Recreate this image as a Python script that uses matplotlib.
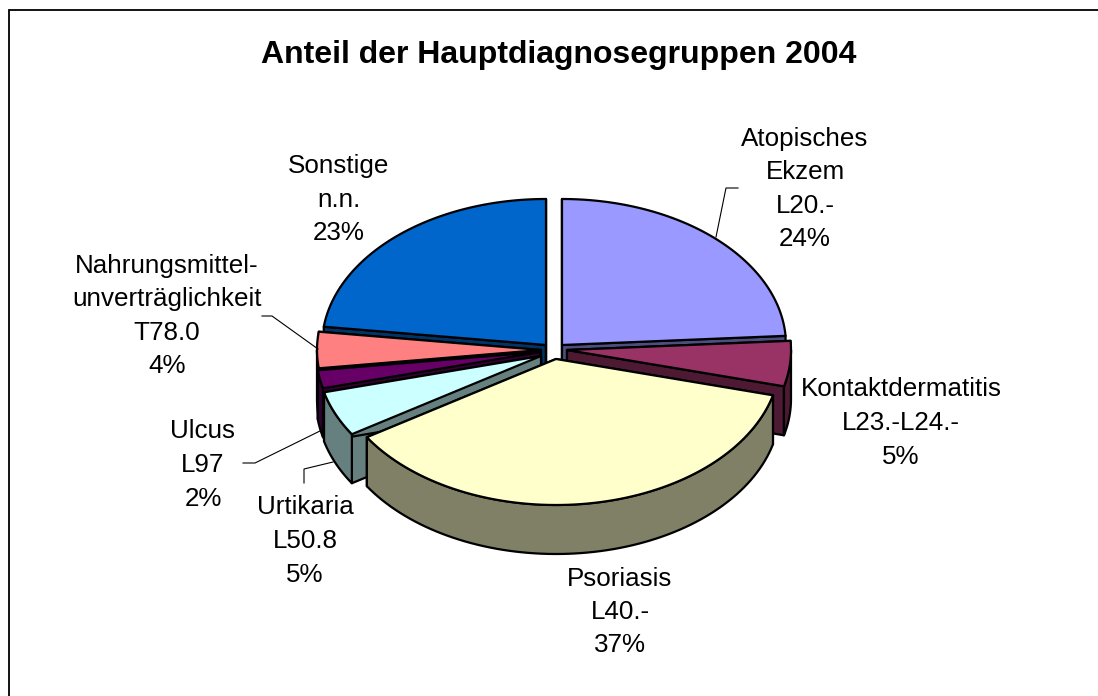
import numpy as np
import matplotlib
matplotlib.use("Agg")
import matplotlib.pyplot as plt

# ---- data ----
title = "Anteil der Hauptdiagnosegruppen 2004"
categories = ["Atopisches\nEkzem\nL20.-", "Kontaktdermatitis\nL23.-L24.-", "Psoriasis\nL40.-",
              "Urtikaria\nL50.8", "Ulcus\nL97", "Nahrungsmittel-\nunverträglichkeit\nT78.0",
              "Sonstige\nn.n."]
values = [24, 5, 37, 5, 2, 4, 23]
top_colors = ["#9999FF", "#993366", "#FFFFCC", "#CCFFFF", "#660066", "#FF8080", "#0066CC"]
side_colors = ["#4D4D80", "#4D1933", "#808066", "#668080", "#330033", "#804040", "#003366"]

# ---- geometry (pixel-like axes units) ----
apex_x = [562, 567, 556, 541, 540, 541, 546]
apex_y = [345, 350, 359, 356, 352, 350, 345]
RX, RY, DEPTH = 224, 146, 49
label_x = [805, 901, 620, 305, 203, 167, 339]
label_y = [189, 423, 612, 541, 465, 316, 200]
draw_order = [6, 0, 5, 1, 4, 3, 2]
leaders = [
    ([716, 726, 738], [237, 188, 188]),
    ([318, 272, 262], [349, 316, 316]),
    ([322, 255, 243], [430, 463, 463]),
    ([333, 304, 304], [462, 469, 483]),
]

fig = plt.figure(figsize=(10.98, 6.96), dpi=100)
ax = fig.add_axes([0, 0, 1, 1])
ax.set_xlim(0, 1098)
ax.set_ylim(696, 0)
ax.axis("off")
plt.rcParams["font.family"] = ["Liberation Sans", "DejaVu Sans"]

ax.plot([8.5, 8.5, 1098], [696, 9.5, 9.5], color="black", lw=1.3, solid_joinstyle="miter")

edges = np.cumsum([0] + values) / sum(values) * 2 * np.pi
lw = 1.6


def rim(cx, cy, a, b, dz=0.0, n=80):
    t = np.linspace(a, b, n)
    return cx + RX * np.sin(t), cy - RY * np.cos(t) + dz


for i in draw_order:
    a, b = edges[i], edges[i + 1]
    cx, cy = apex_x[i], apex_y[i]
    kw = dict(edgecolor="black", linewidth=lw, joinstyle="round")
    # radial cut faces
    for t in (a, b):
        px, py = cx + RX * np.sin(t), cy - RY * np.cos(t)
        ax.fill([cx, px, px, cx], [cy, py, py + DEPTH, cy + DEPTH],
                facecolor=side_colors[i], **kw)
    # outer wall, front half only
    wa, wb = max(a, np.pi / 2), min(b, 3 * np.pi / 2)
    if wb > wa:
        x1, y1 = rim(cx, cy, wa, wb)
        x2, y2 = rim(cx, cy, wa, wb, DEPTH)
        ax.fill(np.r_[x1, x2[::-1]], np.r_[y1, y2[::-1]],
                facecolor=side_colors[i], **kw)
    # top face
    x1, y1 = rim(cx, cy, a, b)
    ax.fill(np.r_[cx, x1], np.r_[cy, y1], facecolor=top_colors[i], **kw)

for lx, ly in leaders:
    ax.plot(lx, ly, color="black", lw=0.8, solid_joinstyle="miter")

ax.text(559, 55, title, ha="center", va="center", fontsize=23, fontweight="bold",
        color="black")
for name, v, x, y in zip(categories, values, label_x, label_y):
    ax.text(x, y, f"{name}\n{v}%", ha="center", va="center", fontsize=18.7,
            linespacing=1.5, color="black")

fig.savefig("out.png", dpi=100, facecolor="white")
